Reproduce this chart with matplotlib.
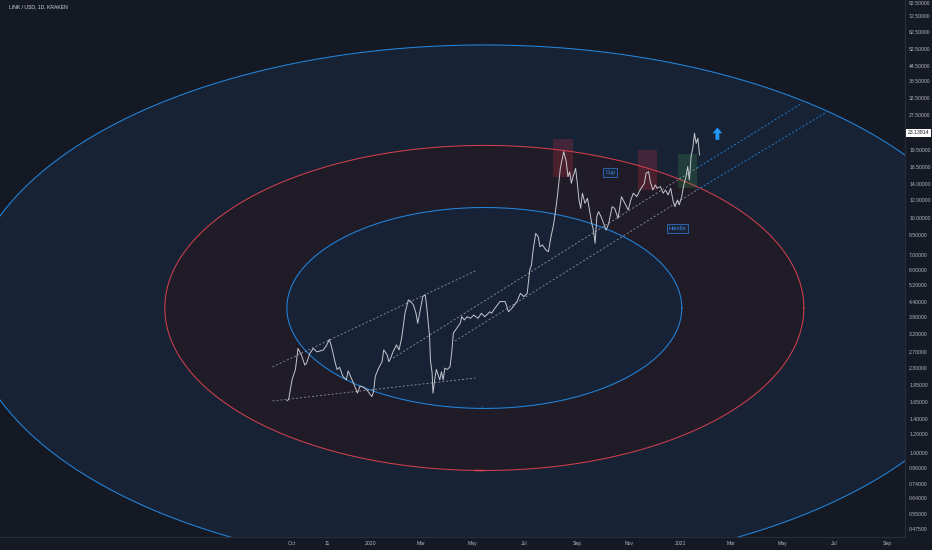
import numpy as np
import pandas as pd
import matplotlib
matplotlib.use("Agg")
import matplotlib.pyplot as plt
import matplotlib.dates as mdates
import matplotlib.transforms as mtransforms
from matplotlib.ticker import FixedLocator, FixedFormatter, NullLocator
from matplotlib.patches import Rectangle

# LINK/USD closes, day offsets counted from the first bar
start = pd.Timestamp("2019-09-25")
days = [0, 2, 6, 10, 13, 17, 21, 23, 27, 31, 35, 39, 43, 47, 50, 53, 57, 59, 62, 66,
        70, 72, 76, 80, 83, 86, 90, 94, 97, 100, 102, 104, 108, 112, 114, 118, 120, 122, 125, 129,
        132, 135, 137, 139, 141, 143, 146, 149, 152, 154, 157, 160, 163, 165, 168, 169, 171, 172, 174, 176,
        180, 182, 184, 186, 189, 192, 194, 196, 200, 204, 206, 209, 212, 216, 220, 225, 229, 233, 239, 241,
        245, 251, 257, 261, 265, 271, 275, 279, 283, 286, 288, 290, 293, 296, 298, 301, 305, 308, 311, 314,
        316, 318, 320, 322, 326, 329, 331, 333, 335, 337, 340, 342, 344, 346, 348, 351, 354, 357, 359, 361,
        363, 365, 367, 370, 373, 376, 379, 383, 386, 390, 394, 398, 402, 405, 408, 412, 416, 421, 423, 426,
        428, 431, 434, 436, 440, 443, 446, 449, 452, 455, 457, 460, 462, 465, 467, 470, 472, 474, 476, 478,
        480, 482, 484, 486]
close = [1.67, 1.69, 2.05, 2.27, 2.79, 2.62, 2.37, 2.41, 2.66, 2.79, 2.70, 2.72, 2.75, 2.89, 3.05, 2.79, 2.41, 2.27, 2.32, 2.12,
         2.05, 2.24, 2.08, 1.92, 1.80, 1.93, 1.91, 1.86, 1.80, 1.74, 1.82, 2.12, 2.30, 2.45, 2.75, 2.62, 2.45, 2.53, 2.70, 2.89,
         2.75, 3.08, 3.46, 3.94, 4.20, 4.49, 4.42, 4.27, 3.94, 3.57, 4.07, 4.64, 4.72, 4.07, 3.13, 2.49, 2.19, 1.80, 2.05, 2.27,
         2.05, 2.22, 2.05, 2.30, 2.27, 2.33, 2.66, 3.24, 3.40, 3.57, 3.81, 3.69, 3.81, 3.75, 3.87, 3.75, 3.94, 3.81, 4.00, 3.94,
         4.14, 4.42, 4.42, 4.00, 4.14, 4.42, 4.79, 4.64, 4.79, 6.03, 6.33, 7.33, 8.63, 8.35, 7.57, 7.70, 7.33, 7.21, 8.35, 9.38,
         10.51, 11.97, 13.88, 16.34, 19.24, 17.44, 15.05, 15.80, 14.11, 15.05, 16.34, 14.11, 11.97, 11.03, 12.80, 11.59, 12.17, 10.51, 9.52, 8.90,
         7.83, 10.17, 10.68, 10.17, 9.52, 8.90, 9.52, 11.21, 11.03, 10.00, 12.37, 11.59, 10.86, 11.97, 12.80, 12.37, 13.21, 14.11, 15.57, 15.80,
         14.33, 13.21, 13.88, 13.43, 13.65, 12.80, 13.21, 12.58, 13.43, 11.78, 11.21, 11.97, 11.41, 12.37, 13.65, 15.05, 16.61, 14.57, 18.32, 19.89,
         23.04, 20.88, 21.93, 18.62]
last_price = 23.13814

# axes
price_ticks = [82.5, 72.5, 62.5, 52.5, 44.5, 38.5, 32.5, 27.5, 23.5, 19.5, 16.5, 14.0, 12.0, 10.0,
               8.5, 7.0, 6.0, 5.2, 4.4, 3.8, 3.2, 2.7, 2.3, 1.95, 1.65, 1.4, 1.2, 1.0,
               0.86, 0.74, 0.64, 0.55, 0.475]
time_ticks = ["2019-10-01", "2019-11-11", "2020-01-01", "2020-03-01", "2020-05-01", "2020-07-01",
              "2020-09-01", "2020-11-01", "2021-01-01", "2021-03-01", "2021-05-01", "2021-07-01",
              "2021-09-01"]
time_labels = ["Oct", "11", "2020", "Mar", "May", "Jul", "Sep", "Nov", "2021", "Mar", "May", "Jul", "Sep"]
view_dates = ["2018-10-22", "2021-09-22"]
view_prices = [0.4386, 85.2]

# fib circles (center, radius in days and as a price factor)
fib_center_date = "2020-05-14 12:00"
fib_center_price = 4.15
fib_radius_days = 232.6
fib_radius_factor = 2.68
fib_levels = [2.618, 1.618, 1.0]

# drawings: trend lines (date, price) pairs
support_line = [("2019-09-08", 1.666), ("2020-05-04", 2.088)]
channel1_top = [("2019-09-08", 2.327), ("2020-05-06", 6.02)]
channel2_top = [("2020-01-28", 2.54), ("2021-01-20", 16.39), ("2021-05-24", 31.02)]
channel2_bot = [("2020-04-10", 3.00), ("2021-01-20", 13.21), ("2021-06-22", 28.40)]

# highlight boxes: (start, end, low, high)
red_boxes = [("2020-08-03", "2020-08-27", 15.01, 21.79),
             ("2020-11-11", "2020-12-04", 13.21, 19.56)]
green_boxes = [("2020-12-29", "2021-01-20", 13.47, 18.81)]
text_labels = [("Cup", "2020-10-10", 15.68), ("Handle", "2020-12-28", 9.05)]
arrow_date = "2021-02-13"
arrow_prices = (21.6, 24.4)

BG = "#151924"
TXT = "#b2b5be"
plt.rcParams["font.family"] = ["Liberation Sans", "DejaVu Sans"]

fig = plt.figure(figsize=(9.32, 5.5), dpi=100, facecolor=BG)
ax = fig.add_axes([0, 13 / 550, 905 / 932, 537 / 550])
ax.set_facecolor(BG)
ax.set_yscale("log")

# fib circles
cx = mdates.date2num(pd.Timestamp(fib_center_date))
th = np.linspace(0, 2 * np.pi, 600)
fills = {2.618: "#172235", 1.618: "#1f1b27", 1.0: "#172237"}
edges = {2.618: "#2386dc", 1.618: "#d0404d", 1.0: "#2386dc"}
for k in fib_levels:
    ex = cx + fib_radius_days * k * np.cos(th)
    ey = fib_center_price * fib_radius_factor ** (k * np.sin(th))
    ax.fill(ex, ey, color=fills[k], lw=0, zorder=1)
    ax.plot(ex, ey, color=edges[k], lw=0.75, zorder=2)
ax.text(cx - 6, fib_center_price * fib_radius_factor ** (-1.618), "1.618", color="#d0404d",
        fontsize=2.8, ha="center", va="center", zorder=3)
ax.text(cx - 3, fib_center_price * fib_radius_factor ** (-1.0), "1", color="#2386dc",
        fontsize=2.8, ha="center", va="center", zorder=3)

# boxes
for (d0, d1, lo, hi), col in [(b, "#f23645") for b in red_boxes] + [(b, "#4caf50") for b in green_boxes]:
    x0 = mdates.date2num(pd.Timestamp(d0))
    x1 = mdates.date2num(pd.Timestamp(d1))
    ax.add_patch(Rectangle((x0, lo), x1 - x0, hi - lo, facecolor=col, alpha=0.2,
                           lw=0, zorder=3))


def draw_line(pts, **kw):
    xs = [pd.Timestamp(d) for d, _ in pts]
    ys = [p for _, p in pts]
    ax.plot(xs, ys, **kw)


dash = dict(lw=0.65, ls=(0, (2.2, 2.2)), zorder=4)
draw_line(support_line, color="#c3c6ce", alpha=0.65, **dash)
draw_line(channel1_top, color="#c3c6ce", alpha=0.65, **dash)
for ch in (channel2_top, channel2_bot):
    draw_line(ch[:2], color="#c3c6ce", alpha=0.65, **dash)
    draw_line(ch[1:], color="#2196f3", alpha=0.85, **dash)

# price
dates = start + pd.to_timedelta(days, unit="D")
ax.plot(dates, close, color="#c4c7cf", lw=0.7, zorder=5)

for txt, d, p in text_labels:
    ax.text(pd.Timestamp(d), p, txt, color="#3a86e8", fontsize=4, ha="center", va="center",
            zorder=6, bbox=dict(boxstyle="square,pad=0.35", fc="#1b2334", ec="#2f6fc0", lw=0.6))

ax.annotate("", xy=(pd.Timestamp(arrow_date), arrow_prices[1]),
            xytext=(pd.Timestamp(arrow_date), arrow_prices[0]),
            arrowprops=dict(arrowstyle="simple,head_width=1.0,head_length=0.6,tail_width=0.4",
                            color="#2196f3", lw=0, mutation_scale=7, shrinkA=0, shrinkB=0),
            zorder=6)

ax.set_xlim(pd.Timestamp(view_dates[0]), pd.Timestamp(view_dates[1]))
ax.set_ylim(*view_prices)

ax.yaxis.tick_right()
ax.yaxis.set_major_locator(FixedLocator(price_ticks))
ax.yaxis.set_major_formatter(FixedFormatter([f"{v:.5f}" for v in price_ticks]))
ax.yaxis.set_minor_locator(NullLocator())
ax.set_xticks([pd.Timestamp(t) for t in time_ticks])
ax.set_xticklabels(time_labels)
ax.tick_params(axis="y", length=0, pad=3, labelsize=3.7, colors=TXT)
ax.tick_params(axis="x", length=0, pad=3, labelsize=3.7, colors=TXT)
for s in ("top", "left"):
    ax.spines[s].set_visible(False)
for s in ("right", "bottom"):
    ax.spines[s].set_color("#2a2e39")
    ax.spines[s].set_linewidth(0.8)

tr = mtransforms.blended_transform_factory(ax.transAxes, ax.transData)
ax.text(1.003, last_price, f"{last_price:.5f}", transform=tr, fontsize=3.7, color="#131722",
        ha="left", va="center", clip_on=False, zorder=10,
        bbox=dict(boxstyle="square,pad=0.3", fc="white", ec="none"))

fig.text(9 / 932, 1 - 7 / 550, "LINK / USD, 1D, KRAKEN", color="#d1d4dc", fontsize=3.7,
         ha="left", va="center")

fig.savefig("out.png", dpi=100, facecolor=BG)
